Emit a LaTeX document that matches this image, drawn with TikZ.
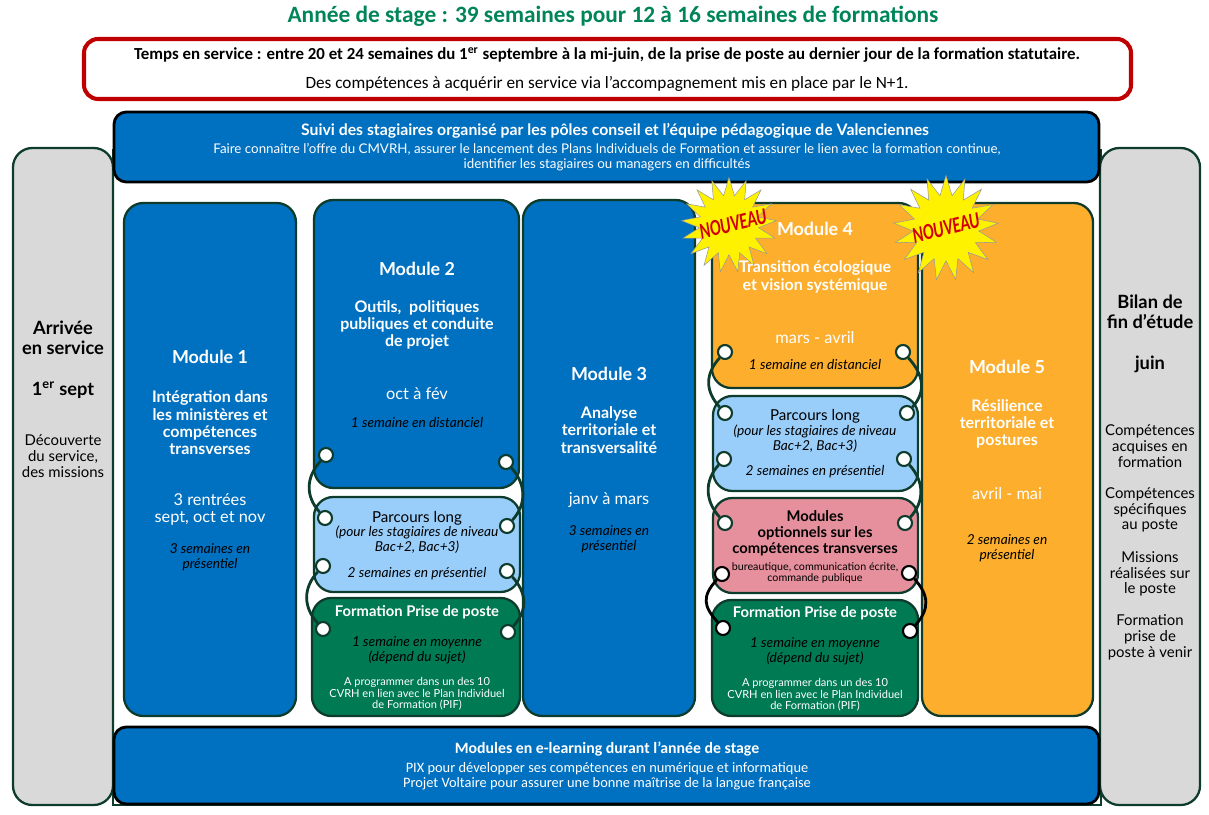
\documentclass[tikz,border=0pt]{standalone}
\usepackage{fontspec}
\setmainfont{Lato}
\newfontfamily\carlito{Carlito}
\usetikzlibrary{shapes.geometric, fit, positioning}

\definecolor{titlegreen}{RGB}{0,133,88}
\definecolor{servred}{RGB}{192,0,0}
\definecolor{modblue}{RGB}{0,112,192}
\definecolor{edgegreen}{RGB}{14,60,44}
\definecolor{longblue}{RGB}{153,206,250}
\definecolor{postegreen}{RGB}{0,122,82}
\definecolor{modorange}{RGB}{252,174,44}
\definecolor{optpink}{RGB}{230,144,158}
\definecolor{sidegrey}{RGB}{217,217,217}
\definecolor{starred}{RGB}{210,0,10}

\begin{document}
\begin{tikzpicture}[x=0.02cm, y=-0.02cm,
    panel/.style={draw=edgegreen, line width=1.3pt, rounded corners=11pt, inner sep=0pt},
    band/.style={draw=black, line width=1.6pt, rounded corners=7pt, fill=modblue, inner sep=0pt},
    modtitle/.style={font=\bfseries\fontsize{10.2}{12}\selectfont, text=white},
    modsub/.style={font=\bfseries\fontsize{9.1}{9.9}\selectfont, text=white, align=center},
    boxtitle/.style={font=\bfseries\fontsize{8.4}{9.2}\selectfont, text=white, align=center},
    moddate/.style={font=\fontsize{9.3}{9.7}\selectfont, text=white, align=center},
    moddur/.style={font=\itshape\fontsize{7.8}{8.6}\selectfont, align=center},
    pifnote/.style={font=\fontsize{6.3}{6.6}\selectfont, text=white, align=center},
    sidebold/.style={font=\bfseries\fontsize{10.4}{11.4}\selectfont, align=center},
    sidetext/.style={font=\fontsize{8.5}{9.0}\selectfont, align=center},
    ring/.style={circle, draw=edgegreen, fill=white, line width=1.2pt, minimum size=0.28cm, inner sep=0pt},
    link/.style={draw=edgegreen, line width=1.6pt},
    newstar/.style={star, star points=17, star point ratio=1.6, minimum size=2.0cm, fill=yellow, draw=black!40, line width=0.3pt},
    newtext/.style={font=\carlito\bfseries\itshape\fontsize{13}{13}\selectfont, text=starred, rotate=14, xscale=0.7}
]
\useasboundingbox (0,0) rectangle (1209,814);

% en-tete
\node[font=\carlito\bfseries\fontsize{13.3}{16}\selectfont, text=titlegreen] (title) at (613,16)
    {Année de stage : 39 semaines pour 12 à 16 semaines de formations};
\node[draw=servred, line width=2.3pt, rounded corners=8pt, fit={(84,39) (1131,99)}, inner sep=0pt] (service) {};
\node[font=\carlito\bfseries\fontsize{9.6}{11}\selectfont] at (607,55)
    {Temps en service : entre 20 et 24 semaines du 1\textsuperscript{er} septembre à la mi-juin, de la prise de poste au dernier jour de la formation statutaire.};
\node[font=\carlito\fontsize{9.8}{11}\selectfont] at (607,84)
    {Des compétences à acquérir en service via l’accompagnement mis en place par le N+1.};

% cadre et colonnes laterales
\node[draw=edgegreen, line width=0.8pt, fit={(113,150) (1101,805)}, inner sep=0pt] (frame) {};
\node[panel, fill=sidegrey, fit={(13,148) (113,805)}] (arrivee) {};
\node[panel, fill=sidegrey, fit={(1100,148) (1200,805)}] (bilan) {};

\node[sidebold] at (63,338) {Arrivée\\en service};
\node[sidebold] at (63,390) {1\textsuperscript{er} sept};
\node[sidetext] at (63,456) {Découverte\\du service,\\des missions};

\node[sidebold] at (1150,312) {Bilan de\\fin d’étude};
\node[sidebold] at (1150,364) {juin};
\node[sidetext] at (1150,446) {Compétences\\acquises en\\formation};
\node[sidetext] at (1150,510) {Compétences\\spécifiques\\au poste};
\node[sidetext] at (1150,574) {Missions\\réalisées sur\\le poste};
\node[sidetext] at (1150,637) {Formation\\prise de\\poste à venir};

% bandeaux
\node[band, fit={(114,112) (1099,182)}] (suivi) {};
\node[font=\bfseries\fontsize{9}{10}\selectfont, text=white] at (615,131)
    {Suivi des stagiaires organisé par les pôles conseil et l’équipe pédagogique de Valenciennes};
\node[font=\fontsize{7.6}{8.6}\selectfont, text=white, align=center] at (607,157)
    {Faire connaître l’offre du CMVRH, assurer le lancement des Plans Individuels de Formation et assurer le lien avec la formation continue,\\identifier les stagiaires ou managers en difficultés};

\node[band, fit={(114,727) (1099,804)}] (elearn) {};
\node[font=\carlito\bfseries\fontsize{9}{10}\selectfont, text=white] at (607,749)
    {Modules en e-learning durant l’année de stage};
\node[font=\carlito\fontsize{8.2}{8.6}\selectfont, text=white, align=center] at (607,776)
    {PIX pour développer ses compétences en numérique et informatique\\Projet Voltaire pour assurer une bonne maîtrise de la langue française};

% module 1
\node[panel, fill=modblue, fit={(124,203) (296,716)}] (m1) {};
\node[modtitle] at (210,357) {Module 1};
\node[modsub] at (210,423) {Intégration dans\\les ministères et\\compétences\\transverses};
\node[moddate] at (210,509) {3 rentrées\\sept, oct et nov};
\node[moddur] at (210,557) {3 semaines en\\présentiel};

% module 2
\node[panel, fill=modblue, fit={(314,200) (519,488)}] (m2) {};
\node[modtitle] at (417,269) {Module 2};
\node[modsub] at (417,325) {Outils,\ \ politiques\\publiques et conduite\\de projet};
\node[moddate] at (417,394) {oct à fév};
\node[moddur] at (417,423) {1 semaine en distanciel};

\node[panel, fill=longblue, fit={(314,497) (520,592)}] (m2long) {};
\node[moddate, text=black, font=\fontsize{8.6}{9.7}\selectfont] at (417,518) {Parcours long};
\node[moddur] at (417,540) {(pour les stagiaires de niveau\\Bac+2, Bac+3)};
\node[moddur] at (417,574) {2 semaines en présentiel};

\node[panel, fill=postegreen, fit={(312,598) (520,716)}] (m2poste) {};
\node[boxtitle] at (417,612) {Formation Prise de poste};
\node[moddur] at (417,650) {1 semaine en moyenne\\(dépend du sujet)};
\node[pifnote] at (417,694) {A programmer dans un des 10\\CVRH en lien avec le Plan Individuel\\de Formation (PIF)};

% module 3
\node[panel, fill=modblue, fit={(523,200) (695,716)}] (m3) {};
\node[modtitle] at (609,374) {Module 3};
\node[modsub] at (609,430) {Analyse\\territoriale et\\transversalité};
\node[moddate] at (609,500) {janv à mars};
\node[moddur] at (609,539) {3 semaines en\\présentiel};

% module 4
\node[panel, fill=modorange, fit={(712,203) (918,388)}] (m4) {};
\node[newstar, minimum size=1.9cm] (new1) at (729,225) {};
\node[newtext] at (733,224) {NOUVEAU};
\node[modtitle] at (815,229) {Module 4};
\node[modsub] at (815,277) {Transition écologique\\et vision systémique};
\node[moddate] at (815,338) {mars - avril};
\node[moddur] at (815,365) {1 semaine en distanciel};

\node[panel, fill=longblue, fit={(713,396) (918,491)}] (m4long) {};
\node[moddate, text=black, font=\fontsize{8.6}{9.7}\selectfont] at (815,416) {Parcours long};
\node[moddur] at (815,439) {(pour les stagiaires de niveau\\Bac+2, Bac+3)};
\node[moddur] at (815,472) {2 semaines en présentiel};

\node[panel, fill=optpink, fit={(713,498) (918,593)}] (m4opt) {};
\node[boxtitle, text=black] at (815,533) {Modules\\optionnels sur les\\compétences transverses};
\node[pifnote, text=black, font=\fontsize{6.1}{6.6}\selectfont] at (815,573) {bureautique, communication écrite,\\commande publique};

\node[panel, fill=postegreen, fit={(712,600) (918,716)}] (m4poste) {};
\node[boxtitle] at (815,613) {Formation Prise de poste};
\node[moddur] at (815,651) {1 semaine en moyenne\\(dépend du sujet)};
\node[pifnote] at (815,695) {A programmer dans un des 10\\CVRH en lien avec le Plan Individuel\\de Formation (PIF)};

% module 5
\node[panel, fill=modorange, fit={(922,203) (1093,716)}] (m5) {};
\node[modtitle] at (1007,367) {Module 5};
\node[modsub] at (1007,424) {Résilience\\territoriale et\\postures};
\node[moddate] at (1007,494) {avril - mai};
\node[moddur] at (1007,548) {2 semaines en\\présentiel};

% anneaux
\foreach \n/\xa/\ya/\xb/\yb/\b/\c in {
    a/326/455/325/518/-1/edgegreen, b/323/566/323/629/-1/edgegreen,
    c/506/462/507/526/1/edgegreen, d/507/571/508/632/1/edgegreen,
    e/725/352/725/413/-1/edgegreen, f/724/459/725/523/-1/edgegreen, g/722/574/723/628/-1/black,
    h/903/352/907/413/1/edgegreen, i/904/459/905/523/1/edgegreen, j/909/573/910/631/1/black} {
  \node[ring, draw=\c] (r\n1) at (\xa,\ya) {};
  \node[ring, draw=\c] (r\n2) at (\xb,\yb) {};
  \draw[link, draw=\c] (r\n1) .. controls +(20*\b,22) and +(20*\b,-22) .. (r\n2);
}

% etoile nouveau (module 5)
\node[newstar, minimum size=2.1cm] (new2) at (946,228) {};
\node[newtext] at (new2) {NOUVEAU};
\end{tikzpicture}
\end{document}
